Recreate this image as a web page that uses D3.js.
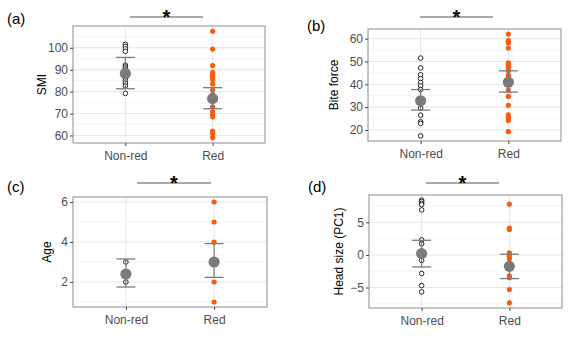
<!DOCTYPE html>
<html>
<head>
<meta charset="utf-8">
<script src="https://cdn.jsdelivr.net/npm/d3@7"></script>
<style>
  html, body { margin: 0; padding: 0; background: #fff; }
  svg { display: block; font-family: "Liberation Sans", Arial, sans-serif; }
</style>
</head>
<body>
<svg id="chart" width="580" height="350"></svg>
<script>
// ---------- data ----------
const categories = ["Non-red", "Red"];

const smiNonRed = [101.6, 100.6, 99.5, 98.4, 92.1, 91.3, 90.4, 86.2, 85.0, 83.9, 82.6, 79.2];
const smiRed = [107.5, 99.4, 91.9, 88.8, 87.9, 86.8, 85.6, 83.5, 80.7, 78.8, 76.1, 73.1, 70.9, 69.4, 68.5, 62.0, 60.9, 59.0];
const smiMean = [88.3, 76.8];
const smiLower = [81.3, 72.2];
const smiUpper = [95.6, 81.8];
const smiTicks = [60, 70, 80, 90, 100];

const biteNonRed = [51.5, 47.2, 44.2, 42.5, 40.8, 39.3, 37.7, 29.6, 26.5, 23.6, 22.9, 17.4];
const biteRed = [62.0, 59.1, 58.2, 55.9, 49.4, 48.6, 47.5, 45.9, 44.0, 42.8, 37.5, 34.7, 30.8, 26.6, 25.5, 24.2, 19.3];
const biteMean = [32.8, 40.9];
const biteLower = [28.7, 36.6];
const biteUpper = [37.7, 45.9];
const biteTicks = [20, 30, 40, 50, 60];

const ageNonRed = [3, 2];
const ageRed = [6, 5, 4, 2, 1];
const ageMean = [2.4, 3.0];
const ageLower = [1.75, 2.23];
const ageUpper = [3.15, 3.92];
const ageTicks = [2, 4, 6];

const headNonRed = [8.4, 8.2, 7.9, 7.7, 6.9, 2.3, 1.7, -0.85, -2.85, -4.7, -5.66];
const headRed = [7.8, 4.1, 3.9, 0.3, -0.2, -0.6, -3.2, -3.5, -5.3, -7.35];
const headMean = [0.2, -1.75];
const headLower = [-1.84, -3.63];
const headUpper = [2.24, 0.1];
const headTicks = [-5, 0, 5];

// ---------- layout (positions / styles) ----------
const panels = [
  { tag: "(a)", title: "SMI", nonred: smiNonRed, red: smiRed, mean: smiMean, lower: smiLower, upper: smiUpper, ticks: smiTicks,
    box: { l: 73, r: 265, t: 26, b: 143 }, tagPos: [7, 24], titleX: 46, sig: { x1: 130, x2: 203, y: 17 } },
  { tag: "(b)", title: "Bite force", nonred: biteNonRed, red: biteRed, mean: biteMean, lower: biteLower, upper: biteUpper, ticks: biteTicks,
    box: { l: 368, r: 561, t: 29, b: 141 }, tagPos: [307, 31], titleX: 338, sig: { x1: 420, x2: 493, y: 17 } },
  { tag: "(c)", title: "Age", nonred: ageNonRed, red: ageRed, mean: ageMean, lower: ageLower, upper: ageUpper, ticks: ageTicks,
    box: { l: 73, r: 267, t: 197, b: 307 }, tagPos: [7, 192], titleX: 51, sig: { x1: 137, x2: 211, y: 183 } },
  { tag: "(d)", title: "Head size (PC1)", nonred: headNonRed, red: headRed, mean: headMean, lower: headLower, upper: headUpper, ticks: headTicks,
    box: { l: 369, r: 562, t: 195, b: 308 }, tagPos: [308, 192], titleX: 343, sig: { x1: 426, x2: 499, y: 183 } }
];

const colRed = "#FF5A0A";
const colMean = "#7b7b7b";
const svg = d3.select("#chart");

panels.forEach(p => {
  const g = svg.append("g");
  const B = p.box;

  const all = p.nonred.concat(p.red, p.lower, p.upper);
  const [mn, mx] = d3.extent(all);
  const pad = (mx - mn) * 0.05;
  const y = d3.scaleLinear().domain([mn - pad, mx + pad]).range([B.b, B.t]);
  const x = d3.scalePoint().domain(categories).range([B.l, B.r]).padding(0.6);

  g.append("rect").attr("x", B.l).attr("y", B.t).attr("width", B.r - B.l).attr("height", B.b - B.t).attr("fill", "#fff");

  // minor gridlines
  const step = p.ticks[1] - p.ticks[0];
  const minor = [];
  for (let v = p.ticks[0] - step / 2; v <= y.domain()[1]; v += step) {
    if (v >= y.domain()[0]) minor.push(v);
  }
  g.selectAll(".minor").data(minor).join("line")
    .attr("x1", B.l).attr("x2", B.r).attr("y1", d => y(d)).attr("y2", d => y(d))
    .attr("stroke", "#f2f2f2").attr("stroke-width", 0.8);
  g.selectAll(".major").data(p.ticks).join("line")
    .attr("x1", B.l).attr("x2", B.r).attr("y1", d => y(d)).attr("y2", d => y(d))
    .attr("stroke", "#e6e6e6").attr("stroke-width", 1);
  g.selectAll(".vmajor").data(categories).join("line")
    .attr("x1", d => x(d)).attr("x2", d => x(d)).attr("y1", B.t).attr("y2", B.b)
    .attr("stroke", "#e6e6e6").attr("stroke-width", 1);

  // points
  g.selectAll(".pn").data(p.nonred).join("circle")
    .attr("cx", x("Non-red")).attr("cy", d => y(d)).attr("r", 2.3)
    .attr("fill", "#fff").attr("stroke", "#111").attr("stroke-width", 0.9);
  g.selectAll(".pr").data(p.red).join("circle")
    .attr("cx", x("Red")).attr("cy", d => y(d)).attr("r", 2.6)
    .attr("fill", colRed);

  // error bars + means
  const cap = 9.5;
  categories.forEach((c, i) => {
    const cx = x(c);
    g.append("line").attr("x1", cx).attr("x2", cx).attr("y1", y(p.lower[i])).attr("y2", y(p.upper[i]))
      .attr("stroke", colMean).attr("stroke-width", 1.2);
    [p.lower[i], p.upper[i]].forEach(v => {
      g.append("line").attr("x1", cx - cap).attr("x2", cx + cap).attr("y1", y(v)).attr("y2", y(v))
        .attr("stroke", colMean).attr("stroke-width", 1.3);
    });
    g.append("circle").attr("cx", cx).attr("cy", y(p.mean[i])).attr("r", 5.6).attr("fill", colMean);
  });

  // border
  g.append("rect").attr("x", B.l).attr("y", B.t).attr("width", B.r - B.l).attr("height", B.b - B.t)
    .attr("fill", "none").attr("stroke", "#8c8c8c").attr("stroke-width", 1);

  // axes
  const ya = d3.axisLeft(y).tickValues(p.ticks).tickFormat(d3.format("d")).tickSize(3).tickPadding(2);
  const yg = g.append("g").attr("transform", `translate(${B.l},0)`).call(ya);
  const xa = d3.axisBottom(x).tickSize(3).tickPadding(5);
  const xg = g.append("g").attr("transform", `translate(0,${B.b})`).call(xa);
  [yg, xg].forEach(a => {
    a.select(".domain").remove();
    a.selectAll(".tick line").attr("stroke", "#444");
    a.selectAll(".tick text").attr("fill", "#4d4d4d").style("font-size", "12px")
      .style("font-family", "'Liberation Sans', Arial, sans-serif");
  });

  // axis title
  g.append("text").attr("transform", `translate(${p.titleX},${(B.t + B.b) / 2}) rotate(-90)`)
    .attr("text-anchor", "middle").style("font-size", "12px").attr("fill", "#000").text(p.title);

  // tag
  g.append("text").attr("x", p.tagPos[0]).attr("y", p.tagPos[1]).style("font-size", "15px").attr("fill", "#000").text(p.tag);

  // significance
  g.append("line").attr("x1", p.sig.x1).attr("x2", p.sig.x2).attr("y1", p.sig.y).attr("y2", p.sig.y)
    .attr("stroke", "#555").attr("stroke-width", 1);
  g.append("text").attr("x", (p.sig.x1 + p.sig.x2) / 2).attr("y", p.sig.y + 7).attr("text-anchor", "middle")
    .style("font-size", "20px").style("font-weight", "bold").attr("fill", "#000").text("*");
});
</script>
</body>
</html>
